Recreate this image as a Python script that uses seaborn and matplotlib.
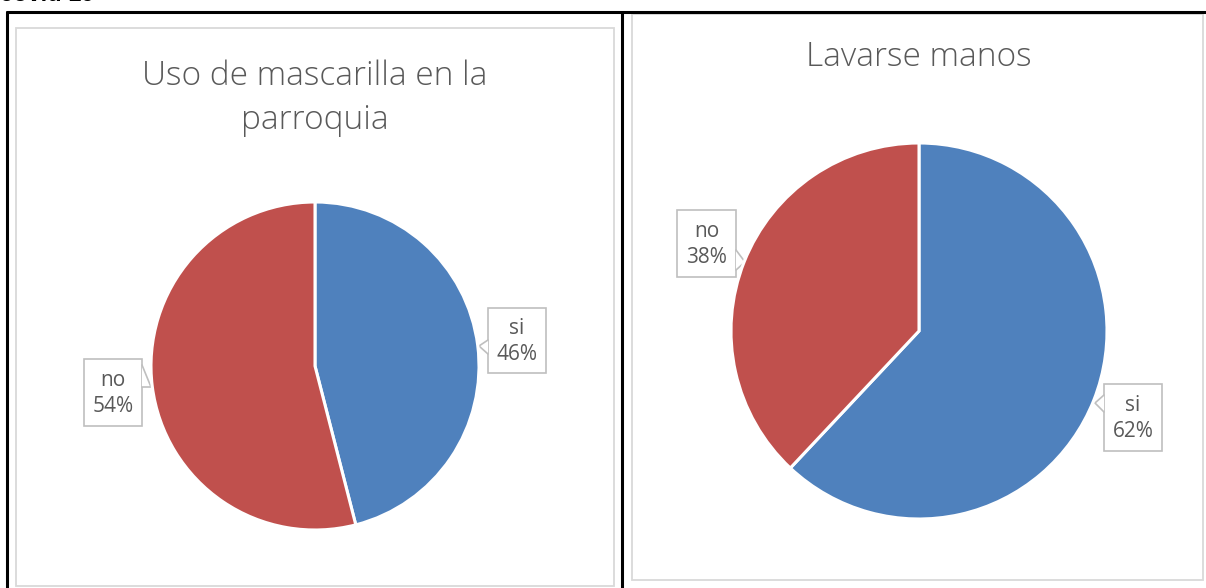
import numpy as np
import matplotlib
matplotlib.use("Agg")
import matplotlib.pyplot as plt
import seaborn as sns

# datos
cats = ["si", "no"]
mascarilla = [46, 54]
manos = [62, 38]
titulos = ["Uso de mascarilla en la\nparroquia", "Lavarse manos"]
colores = ["#4F81BD", "#C0504D"]

sns.set_theme(style="white")
plt.rcParams["font.family"] = ["Open Sans", "DejaVu Sans"]

W, H = 1206, 588
fig = plt.figure(figsize=(W / 100, H / 100), dpi=100)

# fondo en coordenadas de pixel (y hacia abajo)
bg = fig.add_axes([0, 0, 1, 1])
bg.set_xlim(0, W)
bg.set_ylim(H, 0)
bg.axis("off")

# bordes de la tabla
bg.plot([7, 7], [12, H], color="black", lw=2.2)
bg.plot([7, W], [12, 12], color="black", lw=2.2)
bg.plot([622, 622], [12, H], color="black", lw=2.2)

# marcos grises de los graficos
gris = "#D9D9D9"
bg.add_patch(plt.Rectangle((16, 28), 598, 558, fill=False, ec=gris, lw=1.3))
bg.add_patch(plt.Rectangle((632, 14), 571, 566, fill=False, ec=gris, lw=1.3))

# texto cortado arriba
bg.text(0, 6, "covid 19", fontsize=17, fontweight="bold", color="black",
        family=["Liberation Sans", "DejaVu Sans"], va="bottom", ha="left")

# titulos
bg.text(315, 98, titulos[0], fontsize=24, color="#595959", ha="center",
        va="center", linespacing=1.42, fontweight="light")
bg.text(919, 57, titulos[1], fontsize=24, color="#595959", ha="center",
        va="center", fontweight="light")


def pastel(cx, cy, r, valores):
    ax = fig.add_axes([(cx - r) / W, (H - cy - r) / H, 2 * r / W, 2 * r / H])
    ax.pie(valores, colors=colores, startangle=90, counterclock=False,
           radius=1, wedgeprops=dict(edgecolor="white", linewidth=2.2))
    ax.set_xlim(-1, 1)
    ax.set_ylim(-1, 1)
    ax.set_aspect("equal")
    ax.axis("off")


def etiqueta(texto, caja, punta):
    # caja: (x0, y0, x1, y1); punta: tres puntos de la muesca
    x0, y0, x1, y1 = caja
    bg.add_patch(plt.Rectangle((x0, y0), x1 - x0, y1 - y0, fc="white",
                               ec="#BFBFBF", lw=1.2, zorder=3))
    bg.add_patch(plt.Polygon(punta, closed=True, fc="white", ec="none",
                             zorder=4))
    bg.plot([p[0] for p in punta], [p[1] for p in punta], color="#BFBFBF",
            lw=1.2, zorder=5)
    bg.text((x0 + x1) / 2, (y0 + y1) / 2 + 1, texto, ha="center",
            va="center", fontsize=15, color="#595959", linespacing=1.35,
            zorder=6)


pastel(315, 366, 164, mascarilla)
pastel(919, 331, 188, manos)

etiqueta(f"{cats[0]}\n{mascarilla[0]}%", (488, 308, 546, 373),
         [(488, 340), (479, 346), (488, 354)])
etiqueta(f"{cats[1]}\n{mascarilla[1]}%", (84, 359, 142, 426),
         [(142, 365), (151, 387), (142, 387)])
etiqueta(f"{cats[1]}\n{manos[1]}%", (677, 210, 736, 277),
         [(736, 250), (745, 262), (736, 270)])
etiqueta(f"{cats[0]}\n{manos[0]}%", (1104, 384, 1162, 451),
         [(1104, 395), (1095, 403), (1104, 412)])

fig.savefig("out.png", dpi=100)
